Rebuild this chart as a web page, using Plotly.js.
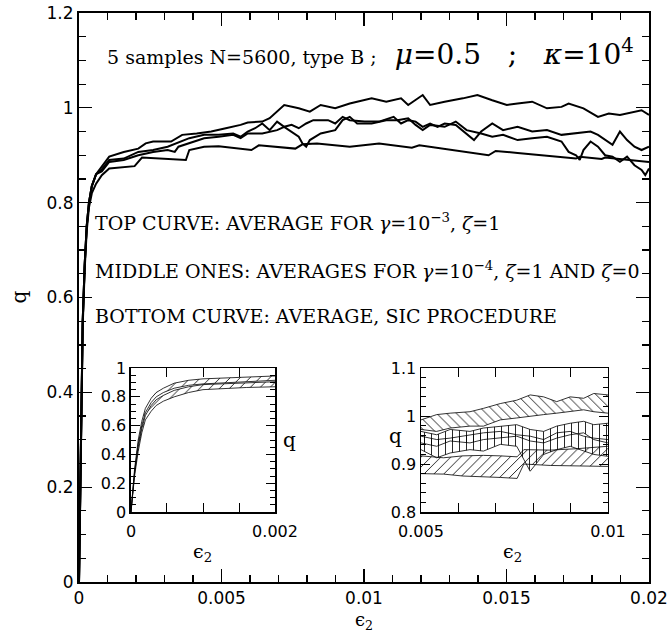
<!DOCTYPE html>
<html>
<head>
<meta charset="utf-8">
<script src="https://cdn.plot.ly/plotly-3.0.1.min.js"></script>
<style>html,body{margin:0;padding:0;background:#fff;}#chart{width:668px;height:633px;}</style>
</head>
<body>
<div id="chart"></div>
<script>
// ---------- main panel data ----------
const riseX = [0, 0.00004, 0.00008, 0.00013, 0.0002, 0.00027, 0.00035, 0.00045, 0.0006];
const riseUpperQ = [0, 0.2, 0.38, 0.55, 0.67, 0.75, 0.8, 0.835, 0.86];
const riseSicQ = [0, 0.2, 0.38, 0.54, 0.66, 0.74, 0.79, 0.82, 0.84];

const topX = [0.0008, 0.00106, 0.00157, 0.00208, 0.00234, 0.0026, 0.00323, 0.00362, 0.00413, 0.00464, 0.00515, 0.00567, 0.00592, 0.00643, 0.00669, 0.00695, 0.0072, 0.00771, 0.0081, 0.00848, 0.00899, 0.0095, 0.01002, 0.01027, 0.01078, 0.0113, 0.01155, 0.01206, 0.01232, 0.01283, 0.01347, 0.01398, 0.0145, 0.01501, 0.01539, 0.0159, 0.01642, 0.01693, 0.01718, 0.0177, 0.01821, 0.01859, 0.01898, 0.01949, 0.01974, 0.02];
const topQ = [0.875, 0.897, 0.907, 0.914, 0.925, 0.929, 0.929, 0.943, 0.946, 0.95, 0.957, 0.964, 0.969, 0.971, 0.978, 0.992, 1.006, 0.999, 0.992, 1.006, 0.999, 1.009, 1.016, 1.02, 1.013, 1.02, 1.006, 1.027, 1.006, 1.013, 1.02, 1.027, 1.016, 1.006, 1.009, 1.013, 0.999, 1.002, 1.009, 0.999, 0.981, 0.988, 0.985, 0.992, 0.995, 0.985];

const mid1X = [0.0008, 0.00106, 0.00157, 0.00208, 0.0026, 0.00311, 0.00362, 0.00387, 0.00439, 0.0049, 0.00541, 0.00567, 0.00592, 0.00618, 0.00643, 0.00669, 0.00695, 0.0072, 0.00746, 0.00771, 0.00797, 0.00822, 0.00874, 0.00899, 0.00925, 0.0095, 0.01002, 0.01053, 0.01104, 0.0113, 0.01155, 0.01181, 0.01206, 0.01232, 0.01258, 0.01283, 0.01322, 0.0136, 0.01386, 0.01411, 0.0145, 0.01488, 0.01539, 0.0159, 0.01642, 0.01693, 0.01744, 0.01795, 0.01821, 0.01872, 0.01898, 0.01923, 0.01949, 0.01974, 0.02];
const mid1Q = [0.87, 0.89, 0.893, 0.907, 0.911, 0.918, 0.929, 0.936, 0.943, 0.943, 0.946, 0.939, 0.95, 0.957, 0.967, 0.953, 0.971, 0.96, 0.964, 0.957, 0.967, 0.974, 0.974, 0.967, 0.981, 0.974, 0.971, 0.971, 0.981, 0.967, 0.974, 0.971, 0.96, 0.967, 0.96, 0.967, 0.964, 0.946, 0.932, 0.95, 0.967, 0.953, 0.96, 0.95, 0.953, 0.943, 0.946, 0.95, 0.943, 0.922, 0.95, 0.932, 0.918, 0.911, 0.918];

const mid2X = [0.0008, 0.00106, 0.00157, 0.00208, 0.0026, 0.00311, 0.00336, 0.00349, 0.00387, 0.00439, 0.0049, 0.00541, 0.00567, 0.00592, 0.00643, 0.00695, 0.0072, 0.00746, 0.00771, 0.00784, 0.00797, 0.0081, 0.00848, 0.00899, 0.00925, 0.0095, 0.00976, 0.01027, 0.01078, 0.01117, 0.01155, 0.01181, 0.01206, 0.01232, 0.01283, 0.01322, 0.0136, 0.01411, 0.0145, 0.01488, 0.01539, 0.0159, 0.01642, 0.01693, 0.01718, 0.01744, 0.01757, 0.0177, 0.01795, 0.01821, 0.01846, 0.01872, 0.01898, 0.01923, 0.01949, 0.01974, 0.01987, 0.02];
const mid2Q = [0.866, 0.886, 0.89, 0.9, 0.907, 0.911, 0.907, 0.918, 0.925, 0.936, 0.939, 0.943, 0.936, 0.946, 0.946, 0.953, 0.96, 0.95, 0.939, 0.925, 0.918, 0.932, 0.946, 0.953, 0.974, 0.981, 0.967, 0.967, 0.974, 0.974, 0.978, 0.964, 0.953, 0.964, 0.96, 0.971, 0.953, 0.946, 0.939, 0.943, 0.932, 0.936, 0.939, 0.929, 0.907, 0.9, 0.89, 0.911, 0.929, 0.918, 0.9, 0.897, 0.886, 0.897, 0.879, 0.869, 0.858, 0.872];

const sicX = [0.0008, 0.00106, 0.00195, 0.00221, 0.00375, 0.00387, 0.00439, 0.0049, 0.00605, 0.00631, 0.00759, 0.00784, 0.00835, 0.0095, 0.01053, 0.01168, 0.01194, 0.01437, 0.01462, 0.01539, 0.01744, 0.01757, 0.01834, 0.01846, 0.02];
const sicQ = [0.858, 0.872, 0.877, 0.895, 0.89, 0.911, 0.918, 0.919, 0.911, 0.921, 0.914, 0.923, 0.925, 0.918, 0.925, 0.916, 0.921, 0.9, 0.909, 0.905, 0.893, 0.897, 0.892, 0.895, 0.886];

// ---------- inset 1 data (0..0.002) ----------
const in1X = [0, 0.00005, 0.0001, 0.00015, 0.0002, 0.00028, 0.00035, 0.00045, 0.0006, 0.0008, 0.001, 0.0013, 0.0016, 0.002];
const in1AHi = [0, 0.3, 0.5, 0.63, 0.72, 0.79, 0.83, 0.86, 0.895, 0.915, 0.925, 0.93, 0.935, 0.945];
const in1ALo = [0, 0.28, 0.47, 0.6, 0.69, 0.76, 0.8, 0.83, 0.86, 0.88, 0.89, 0.9, 0.905, 0.915];
const in1BHi = [0, 0.27, 0.45, 0.58, 0.67, 0.74, 0.78, 0.81, 0.845, 0.87, 0.885, 0.89, 0.9, 0.905];
const in1BLo = [0, 0.25, 0.42, 0.55, 0.64, 0.7, 0.74, 0.77, 0.8, 0.83, 0.85, 0.86, 0.865, 0.87];

// ---------- inset 2 data (0.005..0.01) ----------
const in2X = [0.005, 0.00542, 0.00578, 0.00631, 0.00667, 0.00712, 0.00756, 0.00792, 0.00828, 0.00863, 0.00899, 0.00935, 0.00962, 0.01];
const in2TopHi = [0.992, 1.003, 1.006, 1.009, 1.016, 1.026, 1.033, 1.044, 1.04, 1.03, 1.04, 1.037, 1.047, 1.044];
const in2TopLo = [0.972, 0.968, 0.975, 0.979, 0.979, 0.992, 0.996, 1.0, 1.003, 1.006, 1.009, 1.013, 1.009, 1.006];
const in2M1Hi = [0.968, 0.961, 0.972, 0.968, 0.975, 0.979, 0.982, 0.972, 0.968, 0.979, 0.985, 0.989, 0.982, 0.985];
const in2M1Lo = [0.944, 0.937, 0.948, 0.944, 0.951, 0.954, 0.958, 0.948, 0.944, 0.954, 0.961, 0.965, 0.951, 0.944];
const in2M2Hi = [0.958, 0.951, 0.954, 0.961, 0.965, 0.968, 0.961, 0.958, 0.951, 0.965, 0.968, 0.958, 0.954, 0.951];
const in2M2Lo = [0.93, 0.913, 0.923, 0.93, 0.927, 0.941, 0.937, 0.885, 0.92, 0.93, 0.937, 0.927, 0.92, 0.916];
const in2SicX = [0.005, 0.0056, 0.00612, 0.00667, 0.00712, 0.00757, 0.00775, 0.00846, 0.00918, 0.01];
const in2SicHi = [0.917, 0.913, 0.917, 0.918, 0.917, 0.915, 0.93, 0.929, 0.932, 0.937];
const in2SicLo = [0.88, 0.879, 0.875, 0.874, 0.872, 0.87, 0.9, 0.897, 0.896, 0.895];

const K = 'black';
const traces = [];
function line(x, y, xa, ya, w) {
  traces.push({x: x, y: y, xaxis: xa, yaxis: ya, type: 'scatter', mode: 'lines',
    line: {color: K, width: w}, hoverinfo: 'skip', showlegend: false});
}
function band(x, lo, hi, xa, ya, shape) {
  traces.push({x: x, y: lo, xaxis: xa, yaxis: ya, type: 'scatter', mode: 'lines',
    line: {color: K, width: 0.8}, hoverinfo: 'skip', showlegend: false});
  traces.push({x: x, y: hi, xaxis: xa, yaxis: ya, type: 'scatter', mode: 'lines', fill: 'tonexty',
    fillcolor: 'rgba(0,0,0,0)', fillpattern: {shape: shape, fgcolor: K, bgcolor: 'rgba(0,0,0,0)', size: 7, solidity: 0.12},
    line: {color: K, width: 0.8}, hoverinfo: 'skip', showlegend: false});
}

// main curves
line(riseX.concat(topX), riseUpperQ.concat(topQ), 'x', 'y', 2);
line(riseX.concat(mid1X), riseUpperQ.concat(mid1Q), 'x', 'y', 2);
line(riseX.concat(mid2X), riseUpperQ.concat(mid2Q), 'x', 'y', 2);
line(riseX.concat(sicX), riseSicQ.concat(sicQ), 'x', 'y', 2);

// inset 1
band(in1X, in1ALo, in1AHi, 'x2', 'y2', '/');
band(in1X, in1BLo, in1BHi, 'x2', 'y2', '/');

// inset 2
band(in2X, in2TopLo, in2TopHi, 'x3', 'y3', '\\');
band(in2X, in2M1Lo, in2M1Hi, 'x3', 'y3', '|');
band(in2X, in2M2Lo, in2M2Hi, 'x3', 'y3', '|');
band(in2SicX, in2SicLo, in2SicHi, 'x3', 'y3', '/');

const tickFont = {family: 'DejaVu Sans, sans-serif', size: 17, color: K};
const insetTickFont = {family: 'DejaVu Sans, sans-serif', size: 16, color: K};
function ax(o) {
  return Object.assign({showgrid: false, zeroline: false, showline: true, linecolor: K,
    ticks: 'inside', mirror: 'allticks', tickcolor: K, tickfont: tickFont, tickmode: 'array', fixedrange: true}, o);
}

const serif = 'DejaVu Serif, serif';
const NB = '\u00A0';
const layout = {
  width: 668, height: 633,
  margin: {l: 79, r: 19, t: 13, b: 51},
  paper_bgcolor: 'white', plot_bgcolor: 'white',
  showlegend: false,
  xaxis: ax({range: [0, 0.02], tickvals: [0, 0.005, 0.01, 0.015, 0.02], ticktext: ['0', '0.005', '0.01', '0.015', '0.02'],
    ticklen: 13, linewidth: 2, tickwidth: 1.2, minor: {tickmode: 'linear', tick0: 0, dtick: 0.001, ticklen: 7, tickcolor: K, ticks: 'inside'}}),
  yaxis: ax({range: [0, 1.2], tickvals: [0, 0.2, 0.4, 0.6, 0.8, 1, 1.2], ticktext: ['0', '0.2', '0.4', '0.6', '0.8', '1', '1.2'],
    ticklen: 13, linewidth: 2, tickwidth: 1.2, minor: {tickmode: 'linear', tick0: 0, dtick: 0.05, ticklen: 7, tickcolor: K, ticks: 'inside'}}),
  xaxis2: ax({domain: [0.0912, 0.3439], anchor: 'y2', range: [0, 0.002], tickfont: insetTickFont, ticklabelstandoff: 4,
    tickvals: [0, 0.0005, 0.001, 0.0015, 0.002], ticktext: ['0', '', '', '', '0.002'], ticklen: 9, linewidth: 1.5}),
  yaxis2: ax({domain: [0.123, 0.376], anchor: 'x2', range: [0, 1], tickfont: insetTickFont,
    tickvals: [0, 0.2, 0.4, 0.6, 0.8, 1], ticktext: ['0', '0.2', '0.4', '0.6', '0.8', '1'], ticklen: 9, linewidth: 1.5,
    minor: {tickmode: 'linear', tick0: 0, dtick: 0.05, ticklen: 5, tickcolor: K, ticks: 'inside'}}),
  xaxis3: ax({domain: [0.6, 0.928], anchor: 'y3', range: [0.005, 0.01], tickfont: insetTickFont, ticklabelstandoff: 4,
    tickvals: [0.005, 0.006, 0.007, 0.008, 0.009, 0.01], ticktext: ['0.005', '', '', '', '', '0.01'], ticklen: 9, linewidth: 1.5}),
  yaxis3: ax({domain: [0.123, 0.376], anchor: 'x3', range: [0.8, 1.1], tickfont: insetTickFont,
    tickvals: [0.8, 0.9, 1, 1.1], ticktext: ['0.8', '0.9', '1', '1.1'], ticklen: 9, linewidth: 1.5,
    minor: {tickmode: 'linear', tick0: 0.8, dtick: 0.02, ticklen: 5, tickcolor: K, ticks: 'inside'}}),
  annotations: [
    {xref: 'paper', yref: 'paper', x: 0.0456, y: 0.931, xanchor: 'left', yanchor: 'middle', showarrow: false,
     font: {family: serif, size: 19, color: K},
     text: "5 samples N=5600, type B ;" + NB + NB + NB + "<span style='font-size:28px'><i>μ</i>=0.5" + NB + NB + NB + ";" + NB + NB + NB + "<i>κ</i>=10<sup>4</sup></span>"},
    {xref: 'paper', yref: 'paper', x: 0.0246, y: 0.633, xanchor: 'left', yanchor: 'middle', showarrow: false,
     font: {family: serif, size: 19, color: K}, text: 'TOP CURVE: AVERAGE FOR <i>γ</i>=10<sup>−3</sup>, <i>ζ</i>=1'},
    {xref: 'paper', yref: 'paper', x: 0.0246, y: 0.548, xanchor: 'left', yanchor: 'middle', showarrow: false,
     font: {family: serif, size: 19, color: K}, text: 'MIDDLE ONES: AVERAGES FOR <i>γ</i>=10<sup>−4</sup>, <i>ζ</i>=1 AND <i>ζ</i>=0'},
    {xref: 'paper', yref: 'paper', x: 0.0246, y: 0.467, xanchor: 'left', yanchor: 'middle', showarrow: false,
     font: {family: serif, size: 19, color: K}, text: 'BOTTOM CURVE: AVERAGE, SIC PROCEDURE'},
    {xref: 'paper', yref: 'paper', x: 0.5, y: -0.068, xanchor: 'center', yanchor: 'middle', showarrow: false,
     font: {family: serif, size: 18, color: K}, text: 'ϵ<sub>2</sub>'},
    {xref: 'paper', yref: 'paper', x: -0.107, y: 0.5, xanchor: 'center', yanchor: 'middle', showarrow: false, textangle: -90,
     font: {family: serif, size: 20, color: K}, text: 'q'},
    {xref: 'paper', yref: 'paper', x: 0.370, y: 0.25, xanchor: 'center', yanchor: 'middle', showarrow: false,
     font: {family: serif, size: 20, color: K}, text: 'q'},
    {xref: 'paper', yref: 'paper', x: 0.2175, y: 0.051, xanchor: 'center', yanchor: 'middle', showarrow: false,
     font: {family: serif, size: 19, color: K}, text: 'ϵ<sub>2</sub>'},
    {xref: 'paper', yref: 'paper', x: 0.556, y: 0.257, xanchor: 'center', yanchor: 'middle', showarrow: false,
     font: {family: serif, size: 20, color: K}, text: 'q'},
    {xref: 'paper', yref: 'paper', x: 0.761, y: 0.051, xanchor: 'center', yanchor: 'middle', showarrow: false,
     font: {family: serif, size: 19, color: K}, text: 'ϵ<sub>2</sub>'}
  ]
};

Plotly.newPlot('chart', traces, layout, {staticPlot: true, displayModeBar: false});
</script>
</body>
</html>
